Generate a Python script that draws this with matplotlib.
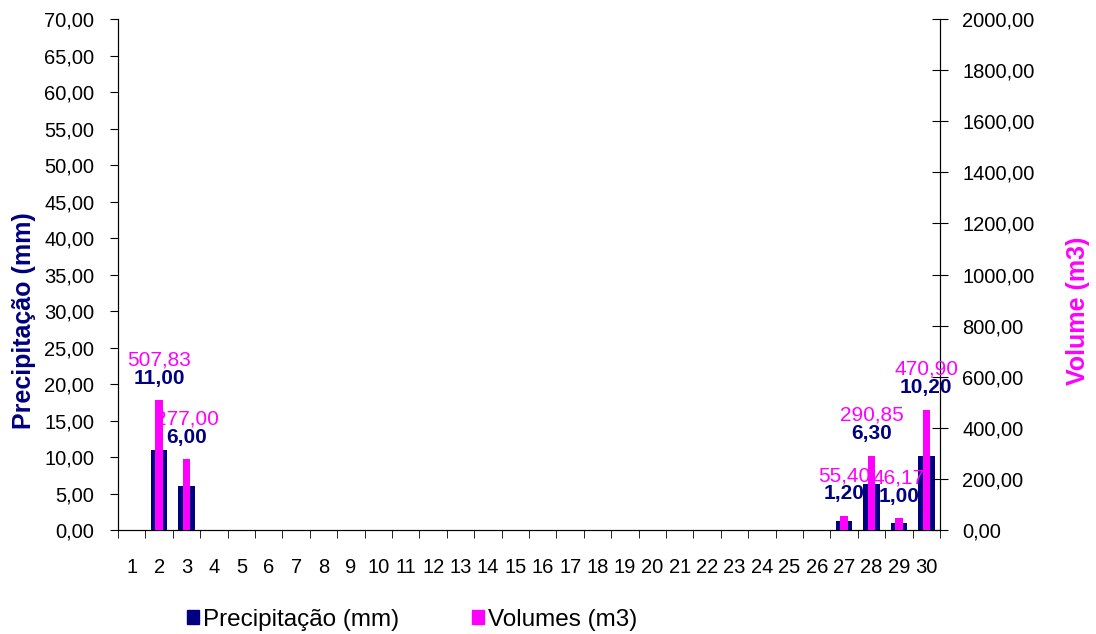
import matplotlib.pyplot as plt
from matplotlib.patches import Patch

plt.rcParams['font.family'] = ['Liberation Sans', 'DejaVu Sans']

# dias do mes
dias = list(range(1, 31))

# precipitacao (mm) por dia
precipitacao = [0, 11.00, 6.00, 0, 0, 0, 0, 0, 0, 0,
                0, 0, 0, 0, 0, 0, 0, 0, 0, 0,
                0, 0, 0, 0, 0, 0, 1.20, 6.30, 1.00, 10.20]

# volumes (m3) por dia
volumes = [0, 507.83, 277.00, 0, 0, 0, 0, 0, 0, 0,
           0, 0, 0, 0, 0, 0, 0, 0, 0, 0,
           0, 0, 0, 0, 0, 0, 55.40, 290.85, 46.17, 470.90]

azul = '#000080'
rosa = '#FF00FF'


def fmt(v):
    return f"{v:.2f}".replace('.', ',')


fig = plt.figure(figsize=(10.96, 6.34), dpi=100)
ax = fig.add_axes([0.1077, 0.164, 0.75, 0.806])
ax2 = ax.twinx()

ax.bar(dias, precipitacao, width=0.6, color=azul, zorder=2)
ax2.bar(dias, volumes, width=0.27, color=rosa, zorder=3)

ax.set_xlim(0.5, 30.5)
ax.set_ylim(0, 70)
ax2.set_ylim(0, 2000)

ax.set_yticks(range(0, 71, 5))
ax.set_yticklabels([fmt(v) for v in range(0, 71, 5)], fontsize=14.5)
ax2.set_yticks(range(0, 2001, 200))
ax2.set_yticklabels([fmt(v) for v in range(0, 2001, 200)], fontsize=14.5)

ax.set_xticks(dias)
ax.set_xticklabels([str(d) for d in dias], fontsize=14.5)
ax.set_xticks([d + 0.5 for d in range(0, 31)], minor=True)
ax.tick_params(axis='x', which='major', length=0, pad=20)
ax.tick_params(axis='x', which='minor', length=6, direction='out', color='black')
ax.tick_params(axis='y', length=6, direction='out', pad=11)
ax2.tick_params(axis='y', length=12, direction='inout', pad=10)

for a in (ax, ax2):
    a.spines['top'].set_visible(False)
    for s in ('left', 'right', 'bottom'):
        a.spines[s].set_color('black')

ax.set_ylabel('Precipitação (mm)', fontsize=18, fontweight='bold', color=azul)
ax2.set_ylabel('Volume (m3)', fontsize=18, fontweight='bold', color=rosa)
ax.yaxis.set_label_coords(-0.1, 0.409)
ax2.yaxis.set_label_coords(1.153, 0.429)

# rotulos de dados
for d, p, v in zip(dias, precipitacao, volumes):
    if v > 0:
        ax2.annotate(fmt(v), (d, v), xytext=(0, 29), textcoords='offset points',
                     ha='center', va='center', fontsize=15, color=rosa, zorder=5)
    if p > 0:
        ax2.annotate(fmt(p), (d, v), xytext=(0, 16), textcoords='offset points',
                     ha='center', va='center', fontsize=15, fontweight='bold',
                     color=azul, zorder=6)

handles = [Patch(color=azul, label='Precipitação (mm)'),
           Patch(color=rosa, label='Volumes (m3)')]
fig.legend(handles=handles, loc='center', bbox_to_anchor=(0.376, 0.022), ncol=2,
           frameon=False, fontsize=17.5, handlelength=0.5, handleheight=0.5,
           handletextpad=0.15, columnspacing=3.0)

fig.savefig('out.png', dpi=100)
